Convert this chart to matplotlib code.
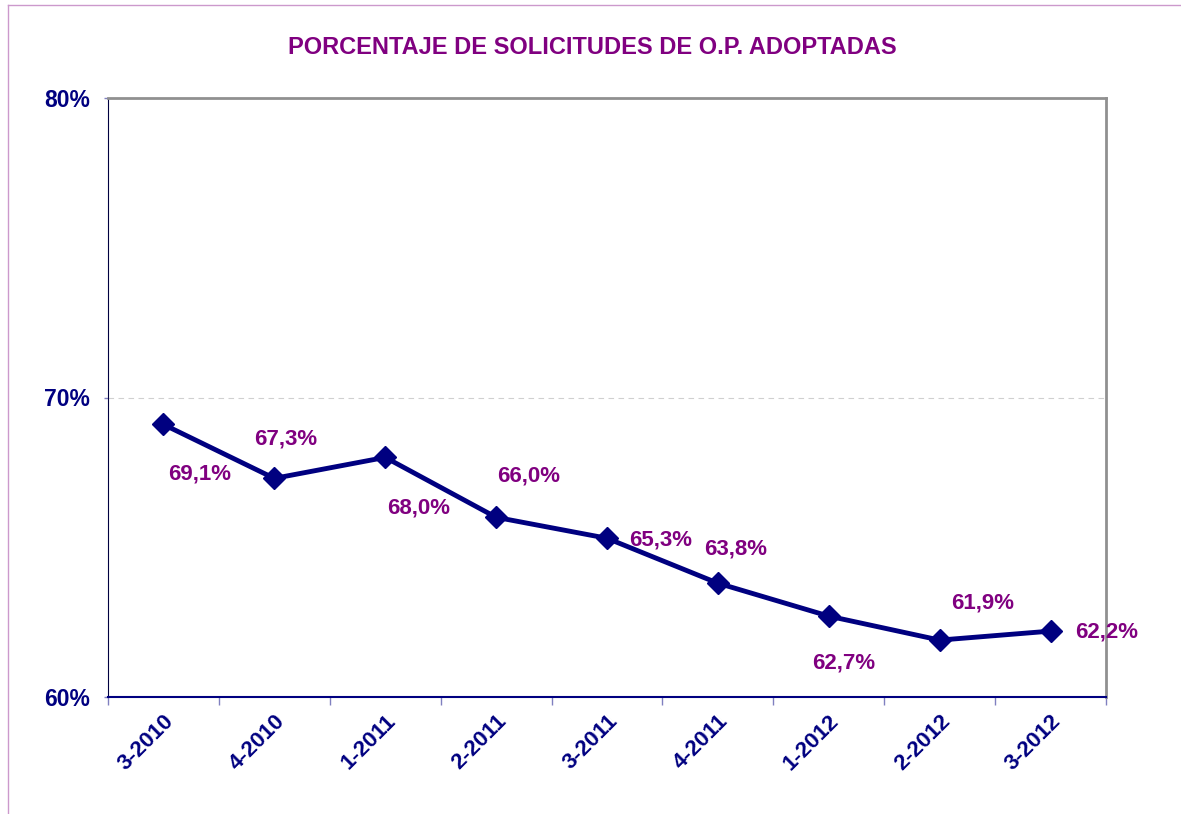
import matplotlib
matplotlib.use("Agg")
import matplotlib.pyplot as plt
from matplotlib.lines import Line2D
import numpy as np

plt.rcParams['font.family'] = ['Liberation Sans', 'DejaVu Sans']

# data
periods = ['3-2010', '4-2010', '1-2011', '2-2011', '3-2011', '4-2011', '1-2012', '2-2012', '3-2012']
values = [69.1, 67.3, 68.0, 66.0, 65.3, 63.8, 62.7, 61.9, 62.2]
labels = ['69,1%', '67,3%', '68,0%', '66,0%', '65,3%', '63,8%', '62,7%', '61,9%', '62,2%']
# label offsets in pixels (dx, dy)
offsets = [(36, -50), (11, 39), (33, -51), (33, 41), (54, -2), (18, 34), (15, -47), (43, 37), (56, -1)]

navy = '#000080'
purple = '#800080'

fig = plt.figure(figsize=(11.81, 8.14), dpi=100)
ax = fig.add_axes([108/1181, 1 - 697/814, (1106-108)/1181, (697-98)/814])

x = np.arange(len(periods))
ax.plot(x, values, color=navy, lw=3.5, marker='D', markersize=11, zorder=3)

for xi, v, lab, off in zip(x, values, labels, offsets):
    ax.annotate(lab, (xi, v), xytext=off, textcoords='offset pixels',
                ha='center', va='center', color=purple, fontsize=16, fontweight='bold')

ax.set_xlim(-0.5, len(periods) - 0.5)
ax.set_ylim(60, 80)
ax.set_yticks([60, 70, 80])
ax.set_yticklabels(['60%', '70%', '80%'])
ax.axhline(70, color='#d0d0d0', lw=0.8, ls=(0, (5, 4)), zorder=1)

# category labels at centres, tick marks on boundaries
ax.set_xticks(x)
ax.set_xticklabels(periods, rotation=45, ha='right', rotation_mode='anchor')
ax.set_xticks(np.arange(-0.5, len(periods)), minor=True)
ax.tick_params(axis='x', which='major', length=0, pad=10)
ax.tick_params(axis='x', which='minor', length=6, color='#8080c0', width=1)
ax.tick_params(axis='y', length=3, color='#8080c0', width=1, pad=10)
for t in ax.get_xticklabels():
    t.set_color(navy)
    t.set_fontweight('bold')
    t.set_fontsize(16)
for t in ax.get_yticklabels():
    t.set_color(navy)
    t.set_fontweight('bold')
    t.set_fontsize(16.5)

ax.spines['top'].set_color('#909090')
ax.spines['right'].set_color('#909090')
ax.spines['top'].set_linewidth(2)
ax.spines['right'].set_linewidth(2)
ax.spines['left'].set_color('#000040')
ax.spines['bottom'].set_color(navy)
ax.spines['bottom'].set_linewidth(1.5)

fig.text(592/1181, 1 - 48/814, 'PORCENTAJE DE SOLICITUDES DE O.P. ADOPTADAS',
         ha='center', va='center', color=purple, fontsize=17, fontweight='bold')

# outer lilac frame
fig.add_artist(Line2D([8/1181, 8/1181], [0, 1 - 5/814], color='#cc99cc', lw=1))
fig.add_artist(Line2D([8/1181, 1], [1 - 5/814, 1 - 5/814], color='#cc99cc', lw=1))

fig.savefig('out.png', dpi=100)
